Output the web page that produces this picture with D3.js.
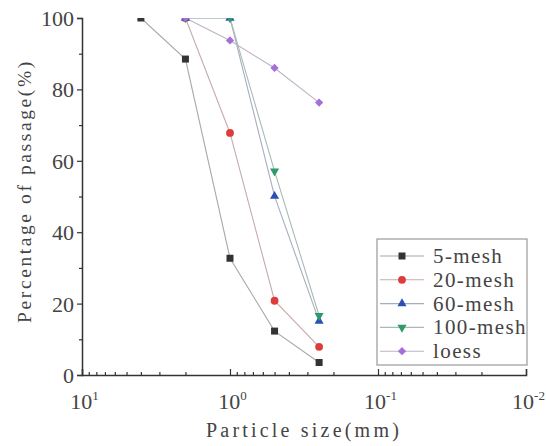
<!DOCTYPE html>
<html>
<head>
<meta charset="utf-8">
<script src="https://cdn.jsdelivr.net/npm/d3@7"></script>
<style>
  body { margin: 0; background: #fff; }
  svg { display: block; }
</style>
</head>
<body>
<svg></svg>
<script>
// particle sizes (mm) and passing percentages
let sizes = [4, 2, 1, 0.5, 0.25];
let seriesNames = ["5-mesh", "20-mesh", "60-mesh", "100-mesh", "loess"];
let mesh5 = [100, 88.5, 32.7, 12.3, 3.5];
let mesh20 = [null, 100, 67.8, 20.8, 7.9];
let mesh60 = [null, 100, 100, 50.1, 15.1];
let mesh100 = [null, 100, 100, 57.1, 16.6];
let loess = [null, 100, 93.7, 86.0, 76.3];
let xTicks = [10, 1, 0.1, 0.01];
let xTickExp = ["1", "0", "-1", "-2"];
let yTicks = [0, 20, 40, 60, 80, 100];
let yMinor = [10, 30, 50, 70, 90];

let colors = ["#333333", "#de3b3b", "#2a50b6", "#2e9a6c", "#a66fd8"];
let shapes = [d3.symbolSquare, d3.symbolCircle, d3.symbolTriangle, d3.symbolTriangle, d3.symbolSquare];

let width = 546;
let height = 446;
let pLeft = 82, pRight = 526, pTop = 18, pBottom = 375;

let svg = d3.select('svg').attr('width', width).attr('height', height);

let xScale = d3.scaleLog().domain([10, 0.01]).range([pLeft, pRight]);
let yScale = d3.scaleLinear().domain([0, 100]).range([pBottom, pTop]);

let allSeries = [mesh5, mesh20, mesh60, mesh100, loess];

svg.append('defs').append('clipPath').attr('id', 'clip')
    .append('rect')
    .attr('x', pLeft).attr('y', pTop)
    .attr('width', pRight - pLeft).attr('height', pBottom - pTop);

let plot = svg.append('g').attr('clip-path', 'url(#clip)');

let line = d3.line()
    .defined(d => d.v != null)
    .x(d => xScale(d.s))
    .y(d => yScale(d.v));

let symbolFor = (i) => {
    let size = [49, 48, 36, 36, 34][i];
    return d3.symbol().type(shapes[i]).size(size)();
};
let rotFor = (i) => i == 3 ? ' rotate(180)' : (i == 4 ? ' rotate(45)' : '');
let lineColor = (i) => d3.interpolateRgb(colors[i], '#c2c2c2')(0.82);

allSeries.forEach((vals, i) => {
    let pts = sizes.map((s, k) => ({ s: s, v: vals[k] }));
    plot.append('path')
        .attr('d', line(pts))
        .attr('fill', 'none')
        .attr('stroke', lineColor(i))
        .attr('stroke-width', 1.1);
});

allSeries.forEach((vals, i) => {
    let pts = sizes.map((s, k) => ({ s: s, v: vals[k] })).filter(d => d.v != null);
    plot.selectAll(null)
        .data(pts)
        .enter()
        .append('path')
        .attr('d', symbolFor(i))
        .attr('fill', colors[i])
        .attr('transform', d => 'translate(' + xScale(d.s) + ',' + yScale(d.v) + ')' + rotFor(i));
});

// y axis
let yAxis = d3.axisLeft(yScale).tickValues(yTicks).tickSize(5).tickPadding(3);
let gy = svg.append('g')
    .attr('transform', 'translate(' + pLeft + ',0)')
    .call(yAxis);
gy.append('g').call(d3.axisLeft(yScale).tickValues(yMinor).tickSize(3).tickFormat(''))
    .select('.domain').remove();

// x axis, ticks pointing inward
let minorVals = [];
[10, 1, 0.1].forEach(d => {
    for (let m = 2; m <= 9; m++) minorVals.push(d * m / 10);
});
let gx = svg.append('g')
    .attr('transform', 'translate(0,' + pBottom + ')')
    .call(d3.axisBottom(xScale).tickValues(xTicks).tickSize(-6).tickPadding(14).tickFormat(''));
gx.append('g').call(d3.axisBottom(xScale).tickValues(minorVals).tickSize(-3).tickFormat(''))
    .select('.domain').remove();

gx.selectAll('.tick').filter(d => xTicks.includes(d))
    .append('text')
    .attr('y', 34)
    .attr('x', 2)
    .attr('fill', '#444')
    .attr('text-anchor', 'middle')
    .style('font-family', '"Liberation Serif", serif')
    .style('font-size', '22px')
    .each(function(d) {
        let t = d3.select(this);
        t.append('tspan').text('10');
        t.append('tspan').attr('dy', -9).style('font-size', '13px').text(xTickExp[xTicks.indexOf(d)]);
    });

[gx, gy].forEach(g => {
    g.selectAll('.domain').attr('stroke', '#333').attr('stroke-width', 1.5);
    g.selectAll('line').attr('stroke', '#333').attr('stroke-width', 1.2);
});
gy.selectAll('text')
    .attr('fill', '#444')
    .attr('dy', '0.34em')
    .style('font-family', '"Liberation Serif", serif')
    .style('font-size', '22px');

// axis titles
svg.append('text')
    .attr('x', 304)
    .attr('y', 437)
    .attr('text-anchor', 'middle')
    .attr('fill', '#444')
    .style('font-family', '"Liberation Serif", serif')
    .style('font-size', '20px')
    .style('letter-spacing', '3.2px')
    .text('Particle size(mm)');

svg.append('text')
    .attr('transform', 'translate(31,' + 191 + ') rotate(-90)')
    .attr('text-anchor', 'middle')
    .attr('fill', '#444')
    .style('font-family', '"Liberation Serif", serif')
    .style('font-size', '19.5px')
    .style('letter-spacing', '2.6px')
    .text('Percentage of passage(%)');

// legend
let legend = svg.append('g').attr('id', 'legend');
legend.append('rect')
    .attr('x', 377).attr('y', 239)
    .attr('width', 150).attr('height', 126)
    .attr('fill', '#fff')
    .attr('stroke', '#999')
    .attr('stroke-width', 1.2);

seriesNames.forEach((name, i) => {
    let y = 256 + i * 23.8;
    let row = legend.append('g');
    row.append('line')
        .attr('x1', 380).attr('x2', 424)
        .attr('y1', y).attr('y2', y)
        .attr('stroke', lineColor(i))
        .attr('stroke-width', 1.1);
    row.append('path')
        .attr('d', symbolFor(i))
        .attr('fill', colors[i])
        .attr('transform', 'translate(402,' + y + ')' + rotFor(i));
    row.append('text')
        .attr('x', 433)
        .attr('y', y + 7)
        .attr('fill', '#444')
        .style('font-family', '"Liberation Serif", serif')
        .style('font-size', '21px')
        .style('letter-spacing', '1.4px')
        .text(name);
});
</script>
</body>
</html>
